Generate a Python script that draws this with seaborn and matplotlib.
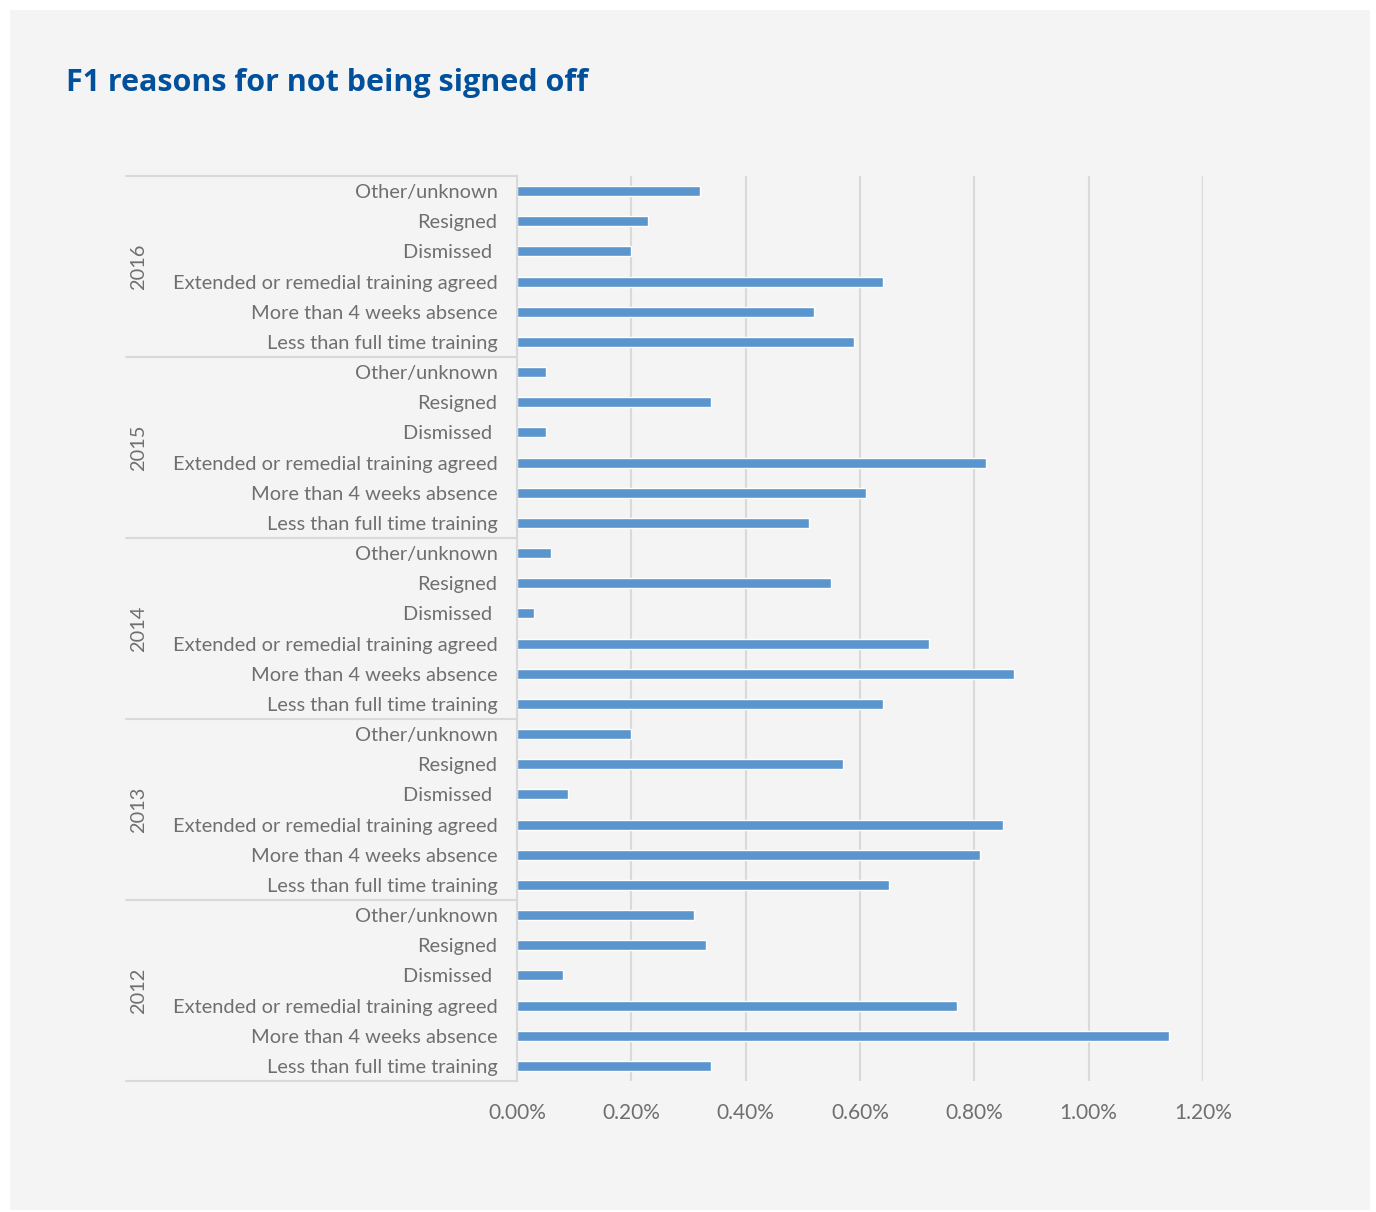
import numpy as np
import pandas as pd
import matplotlib.pyplot as plt
from matplotlib.patches import Rectangle
from matplotlib.ticker import FuncFormatter
import seaborn as sns

# data (percent)
years = ["2016", "2015", "2014", "2013", "2012"]
reasons = ["Other/unknown", "Resigned", "Dismissed ",
           "Extended or remedial training agreed", "More than 4 weeks absence",
           "Less than full time training"]
vals_2016 = [0.32, 0.23, 0.20, 0.64, 0.52, 0.59]
vals_2015 = [0.05, 0.34, 0.05, 0.82, 0.61, 0.51]
vals_2014 = [0.06, 0.55, 0.03, 0.72, 0.87, 0.64]
vals_2013 = [0.20, 0.57, 0.09, 0.85, 0.81, 0.65]
vals_2012 = [0.31, 0.33, 0.08, 0.77, 1.14, 0.34]
x_ticks = [0.0, 0.2, 0.4, 0.6, 0.8, 1.0, 1.2]

rows = []
for yr, vals in zip(years, [vals_2016, vals_2015, vals_2014, vals_2013, vals_2012]):
    for r, v in zip(reasons, vals):
        rows.append({"year": yr, "reason": r, "key": yr + "|" + r, "pct": v})
df = pd.DataFrame(rows)

sns.set_style("white")
plt.rcParams["font.family"] = ["Lato", "DejaVu Sans"]

grey_txt = "#6f6f6f"
grid_col = "#d9d9d9"
bg = "#f4f4f4"

fig = plt.figure(figsize=(13.76, 12.12), dpi=100, facecolor="white")
fig.patches.append(Rectangle((10 / 1376, 2 / 1212), 1360 / 1376, 1200 / 1212,
                             transform=fig.transFigure, facecolor=bg,
                             edgecolor="none", zorder=-10))

ax = fig.add_axes([517 / 1376, 1 - 1081 / 1212, 686 / 1376, 905 / 1212])
ax.set_facecolor(bg)

sns.barplot(data=df, y="key", x="pct", orient="h", color="#5b95cd",
            width=0.33, ax=ax, saturation=1)

n = len(df)
ax.set_ylim(n - 0.5, -0.5)
ax.set_xlim(0, 1.2)
ax.set_xticks(x_ticks)
ax.xaxis.set_major_formatter(FuncFormatter(lambda v, p: f"{v:.2f}%"))
ax.grid(axis="x", color=grid_col, linewidth=1.5)
ax.set_axisbelow(True)
ax.set_yticks(range(n))
ax.set_yticklabels(df["reason"])
ax.set_xlabel("")
ax.set_ylabel("")
for s in ["top", "right", "bottom"]:
    ax.spines[s].set_visible(False)
ax.spines["left"].set_color(grid_col)
ax.spines["left"].set_linewidth(1.5)
ax.tick_params(axis="y", length=0, pad=14, labelsize=14.4, labelcolor=grey_txt)
ax.tick_params(axis="x", length=0, pad=16, labelsize=15, labelcolor=grey_txt)

# group separators and year labels
trans = ax.get_yaxis_transform()
x0 = (126 - 517) / 686
for i in range(len(years) + 1):
    yb = i * 6 - 0.5
    ax.plot([x0, 0], [yb, yb], color=grid_col, linewidth=1.5,
            transform=trans, clip_on=False)
for i, yr in enumerate(years):
    ax.text((139 - 517) / 686, i * 6 + 2.5, yr, rotation=90, ha="center",
            va="center", fontsize=14.4, color=grey_txt, transform=trans)

fig.text(66 / 1376, 1 - 83 / 1212, "F1 reasons for not being signed off",
         fontsize=22, fontweight="bold", color="#00509b", va="center",
         family=["Open Sans", "DejaVu Sans"])

fig.savefig("out.png", dpi=100, facecolor="white")
